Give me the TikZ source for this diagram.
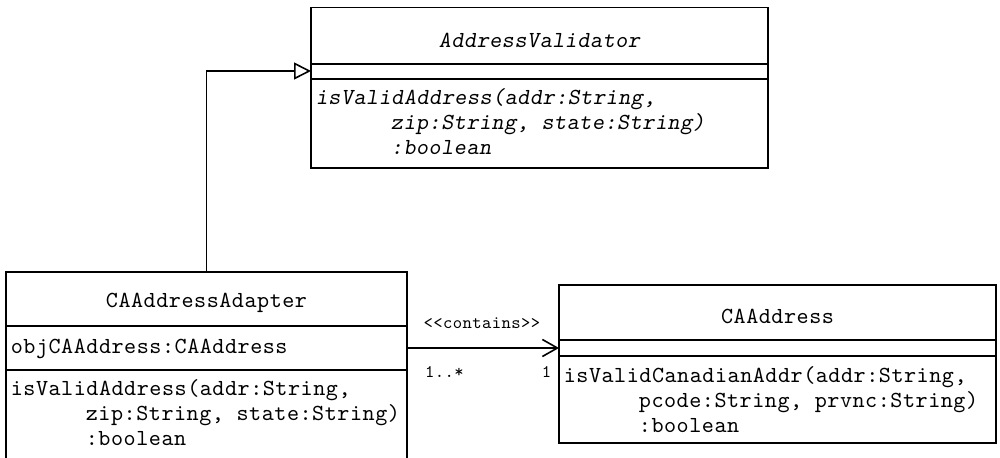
\documentclass[tikz,border=0pt]{standalone}
\usepackage{fontspec}
\setmonofont{lmmono10-regular.otf}[LetterSpace=2.3,ItalicFont=lmmonoslant10-regular.otf]
\usetikzlibrary{arrows.meta}
\begin{document}
\begin{tikzpicture}[x=0.5pt,y=-0.5pt,line width=0.8pt,
  classbox/.style={draw=black,inner sep=0pt,outer sep=0pt,anchor=north west},
  txt/.style={font=\ttfamily\fontsize{11.5}{12.5}\selectfont,text=black,inner sep=0pt,align=left},
  small/.style={font=\ttfamily\fontsize{8.9}{9}\selectfont,text=black,inner sep=0pt},
  gen/.style={-{Triangle[open,length=8.5pt,width=8.5pt,line width=0.8pt]}},
  assoc/.style={-{Straight Barb[length=7.5pt,width=8.5pt,line width=0.8pt]}}]
\useasboundingbox (0,0) rectangle (1000,458);
% class boxes
\node[classbox,minimum width=228.5pt,minimum height=80.25pt] (validator) at (311,7.5) {};
\node[classbox,minimum width=200.5pt,minimum height=94pt] (adapter) at (6,272) {};
\node[classbox,minimum width=218.5pt,minimum height=79pt] (ca) at (559,285) {};
% compartments
\path (validator.north west) ++(0,56.5) coordinate (v1) ++(0,15) coordinate (v2);
\draw (v1) -- (v1 -| validator.east) (v2) -- (v2 -| validator.east);
\path (adapter.north west) ++(0,54) coordinate (a1) ++(0,44) coordinate (a2);
\draw (a1) -- (a1 -| adapter.east) (a2) -- (a2 -| adapter.east);
\path (ca.north west) ++(0,55) coordinate (c1) ++(0,16) coordinate (c2);
\draw (c1) -- (c1 -| ca.east) (c2) -- (c2 -| ca.east);
% texts
\node[txt] (vtitle) at (539.5,40) {\itshape AddressValidator};
\node[txt,anchor=west] (vops) at (315,121.5) {\itshape isValidAddress(addr:String,\\
\itshape\hphantom{000000}zip:String, state:String)\\
\itshape\hphantom{000000}:boolean};
\node[txt] (atitle) at (206.5,303) {CAAddressAdapter};
\node[txt,anchor=west] (aattr) at (10,349) {objCAAddress:CAAddress};
\node[txt,anchor=west] (aops) at (10,413) {isValidAddress(addr:String,\\
\hphantom{000000}zip:String, state:String)\\
\hphantom{000000}:boolean};
\node[txt] (ctitle) at (777.5,316) {CAAddress};
\node[txt,anchor=west] (cops) at (563,400) {isValidCanadianAddr(addr:String,\\
\hphantom{000000}pcode:String, prvnc:String)\\
\hphantom{000000}:boolean};
% connectors
\coordinate (vin) at (311,71);
\draw[gen] (adapter.north) |- (vin);
\coordinate (aout) at (407,348);
\draw[assoc] (aout) -- (aout -| ca.west);
\node[small] (stereo) at (482,323) {<<contains>>};
\node[small] (mult1) at (444.5,372) {1..*};
\node[small] (mult2) at (546.5,372) {1};
\end{tikzpicture}
\end{document}
